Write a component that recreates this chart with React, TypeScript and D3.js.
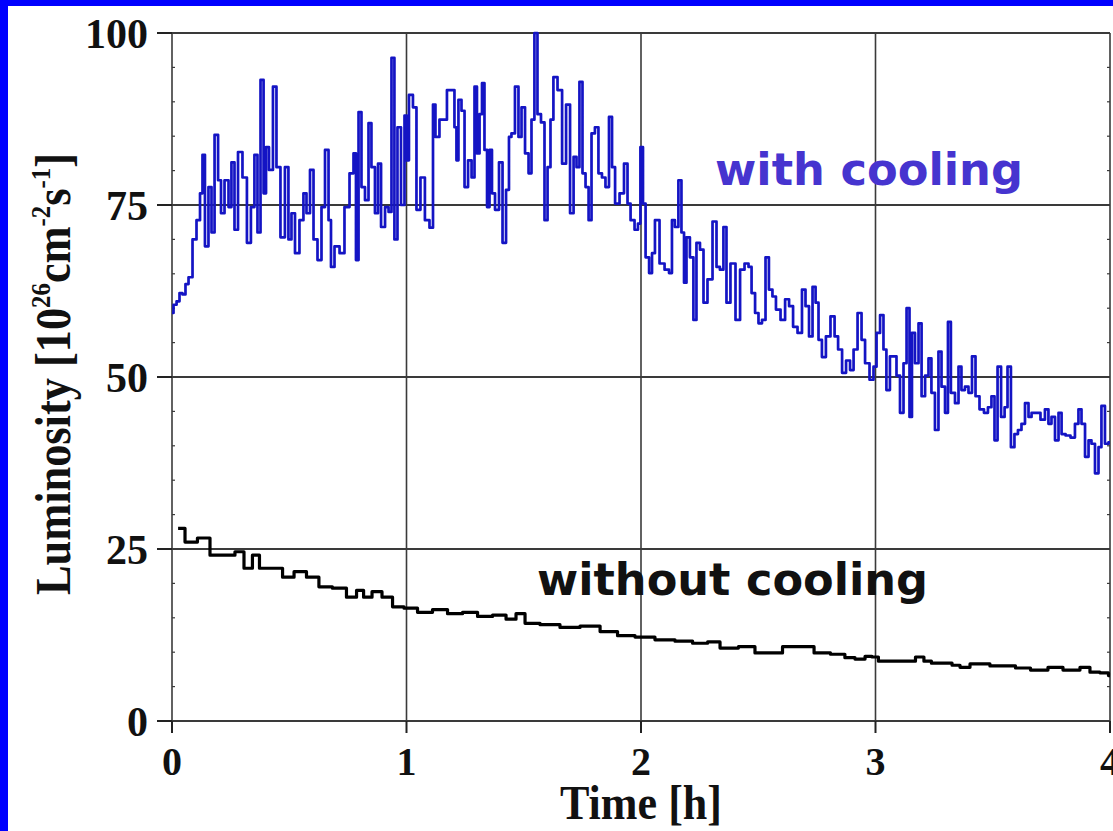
import React from "react";
import * as d3 from "d3";

const WIDTH = 1113;
const HEIGHT = 831;

// Time axis in hours, luminosity in 10^26 cm^-2 s^-1
const xTicks = [0, 1, 2, 3, 4];
const yTicks = [0, 25, 50, 75, 100];

// Beam luminosity with stochastic cooling
const coolTime = [
  0.0, 0.013, 0.026, 0.038, 0.051, 0.064, 0.077, 0.098, 0.111, 0.128, 0.132, 0.149, 0.162, 0.175, 0.188,
  0.205, 0.213, 0.235, 0.247, 0.26, 0.273, 0.29, 0.311, 0.328, 0.345, 0.358, 0.371, 0.384, 0.397, 0.405,
  0.422, 0.439, 0.452, 0.473, 0.49, 0.503, 0.516, 0.533, 0.554, 0.567, 0.58, 0.597, 0.61, 0.631, 0.644,
  0.661, 0.674, 0.682, 0.704, 0.725, 0.746, 0.768, 0.78, 0.789, 0.802, 0.814, 0.832, 0.844, 0.857, 0.874,
  0.883, 0.9, 0.917, 0.93, 0.942, 0.955, 0.968, 0.985, 0.998, 1.002, 1.019, 1.036, 1.049, 1.07, 1.087,
  1.109, 1.117, 1.13, 1.151, 1.164, 1.181, 1.198, 1.211, 1.215, 1.228, 1.241, 1.254, 1.271, 1.284, 1.296,
  1.305, 1.318, 1.326, 1.339, 1.348, 1.36, 1.369, 1.386, 1.403, 1.416, 1.433, 1.441, 1.454, 1.471, 1.484,
  1.497, 1.514, 1.527, 1.539, 1.552, 1.565, 1.582, 1.595, 1.608, 1.62, 1.633, 1.655, 1.672, 1.689, 1.706,
  1.719, 1.731, 1.744, 1.757, 1.77, 1.783, 1.795, 1.812, 1.825, 1.842, 1.855, 1.872, 1.881, 1.898, 1.919,
  1.936, 1.949, 1.962, 1.983, 1.991, 2.004, 2.013, 2.026, 2.043, 2.051, 2.068, 2.09, 2.111, 2.128, 2.136,
  2.153, 2.166, 2.179, 2.188, 2.2, 2.217, 2.23, 2.243, 2.26, 2.273, 2.294, 2.316, 2.328, 2.345, 2.358,
  2.371, 2.392, 2.414, 2.431, 2.452, 2.465, 2.478, 2.495, 2.507, 2.525, 2.537, 2.554, 2.567, 2.584, 2.606,
  2.623, 2.64, 2.657, 2.678, 2.695, 2.708, 2.725, 2.738, 2.751, 2.763, 2.78, 2.797, 2.819, 2.832, 2.849,
  2.866, 2.883, 2.9, 2.913, 2.934, 2.947, 2.964, 2.985, 2.998, 3.011, 3.028, 3.04, 3.053, 3.07, 3.083,
  3.096, 3.113, 3.126, 3.139, 3.151, 3.16, 3.177, 3.19, 3.203, 3.22, 3.232, 3.245, 3.262, 3.275, 3.288,
  3.305, 3.313, 3.33, 3.348, 3.36, 3.373, 3.39, 3.403, 3.42, 3.433, 3.454, 3.471, 3.488, 3.501, 3.514,
  3.527, 3.544, 3.557, 3.569, 3.586, 3.599, 3.616, 3.629, 3.646, 3.659, 3.672, 3.693, 3.714, 3.731, 3.744,
  3.757, 3.774, 3.787, 3.8, 3.821, 3.842, 3.859, 3.872, 3.885, 3.902, 3.915, 3.927, 3.945, 3.957, 3.97,
  3.987, 4.0,
];
const coolLum = [
  59.3, 60.5, 61, 62.2, 62, 63.5, 64.5, 70, 72.8, 76.7, 82.3, 69, 77.6, 71, 85.2,
  78.6, 73.8, 78.6, 74.7, 81.2, 71.4, 82.7, 79, 69.5, 74.7, 82.3, 71, 93.2, 76.7, 83.4,
  80.1, 92.2, 80.5, 70.3, 80.5, 70, 73.8, 68, 72.8, 76.7, 73.8, 80.1, 70, 67, 74.7,
  83, 72.8, 66, 69, 68, 74.7, 79.6, 82.5, 67, 88.5, 77.6, 75.7, 86.9, 80.5, 73.8,
  81, 71.8, 74.7, 74, 96.4, 70, 86.3, 75, 88, 81.5, 91, 89.2, 74.3, 79, 72.8,
  71.7, 89.6, 84.9, 87.4, 87.4, 91.7, 91.7, 86.3, 81.5, 90.3, 88.7, 77.6, 81.5, 79, 92.2,
  82.5, 88.2, 92.7, 83, 74.7, 83, 76.7, 74.3, 81.2, 69.5, 77.2, 84.9, 85.4, 92.2, 84.9,
  89.2, 82.5, 79.6, 87.4, 100, 88.2, 87, 72.8, 80.5, 87.4, 93.6, 91.7, 81, 89.6, 73.8,
  82, 80.5, 92.9, 79.6, 77.6, 72.8, 85.4, 86.3, 79.6, 79, 77.6, 87.8, 80.5, 75.2, 76.7,
  81, 75.2, 72.8, 71.4, 72.3, 83.4, 75.2, 67.4, 65.1, 68, 72.8, 66.5, 65.6, 65.1, 72.8,
  71.8, 78.6, 71, 63.7, 70.3, 67.4, 58.3, 69.5, 68.5, 60.8, 64.2, 72.6, 66, 65.6, 71.8,
  60.8, 66.5, 58.3, 65.6, 66.5, 66, 62.2, 59.3, 57.8, 58.3, 67.4, 62.7, 61.7, 59.8, 58.3,
  61.3, 60.3, 57.3, 56.4, 62.7, 60.3, 55.9, 63.1, 60.8, 55.4, 52.9, 55.9, 58.8, 55.9, 54,
  50.6, 52.4, 51, 54, 59.3, 55.4, 52, 49.6, 51.5, 56.4, 59, 54, 48.1, 53, 53,
  50.2, 44.8, 52, 60, 44.2, 56.4, 52, 57.8, 47.2, 50.2, 52.7, 47.7, 42.3, 53.7, 48.6,
  44.8, 58, 47.7, 46.2, 51.5, 48.1, 48.6, 47.7, 53, 47.2, 45.3, 44.8, 45.6, 47.2, 40.8,
  51.5, 44.2, 45.6, 51.5, 39.8, 41.7, 42.3, 43.2, 46.2, 44.2, 44.8, 44.8, 43.8, 45.3, 43.2,
  44.2, 40.8, 44.8, 41.7, 41.5, 41.2, 43.2, 45.3, 43.2, 38.4, 40.8, 40.3, 36, 39.8, 45.8,
  40.3, 40.5,
];

// Beam luminosity without cooling
const noCoolTime = [
  0.026, 0.085, 0.132, 0.192, 0.247, 0.29, 0.324, 0.362, 0.384, 0.448, 0.495, 0.546, 0.601, 0.652, 0.716,
  0.772, 0.802, 0.832, 0.874, 0.917, 0.964, 1.015, 1.079, 1.143, 1.207, 1.271, 1.335, 1.399, 1.45, 1.484,
  1.527, 1.612, 1.697, 1.783, 1.868, 1.932, 2.017, 2.102, 2.188, 2.252, 2.316, 2.358, 2.473, 2.499, 2.593,
  2.614, 2.721, 2.755, 2.861, 2.878, 2.947, 2.964, 3.006, 3.019, 3.16, 3.181, 3.232, 3.245, 3.305, 3.348,
  3.373, 3.433, 3.475, 3.501, 3.586, 3.608, 3.714, 3.757, 3.842, 3.902, 3.927, 3.987, 4.0,
];
const noCoolLum = [
  28.0, 26.0, 26.6, 24.1, 24.1, 24.6, 22.2, 24.1, 22.2, 22.2, 20.9, 21.7, 20.9, 19.5, 19.3,
  18.0, 19.0, 18.0, 18.8, 18.0, 16.6, 16.4, 15.8, 16.2, 15.6, 15.8, 15.2, 15.4, 14.8, 15.6,
  14.2, 14.0, 13.6, 13.8, 13.0, 12.4, 12.2, 11.8, 11.6, 11.3, 11.5, 10.6, 10.8, 9.9, 9.9,
  10.8, 10.8, 9.9, 9.7, 9.2, 9.0, 9.4, 9.3, 8.7, 8.7, 9.3, 8.7, 8.4, 8.4, 8.1,
  7.8, 8.3, 8.3, 8.0, 8.0, 7.7, 7.4, 7.8, 7.4, 7.8, 7.1, 7.0, 6.6,
];

const x = d3.scaleLinear().domain([0, 4]).range([172, 1110]);
const y = d3.scaleLinear().domain([0, 100]).range([721, 33]);
const yMinor = y.ticks(20).filter((v) => v % 25 !== 0);

// Both records are logged as held samples, so they are drawn as steps
const coolPath = d3
  .line<number>()
  .x((_, i) => x(coolTime[i]))
  .y((d) => y(d))
  .curve(d3.curveStep)(coolLum) as string;

const noCoolPath = d3
  .line<number>()
  .x((_, i) => x(noCoolTime[i]))
  .y((d) => y(d))
  .curve(d3.curveStep)(noCoolLum) as string;

const SERIF = "'Liberation Serif', 'Times New Roman', serif";
const SANS = "'DejaVu Sans', Verdana, sans-serif";
const GRID = "#3a3a3a";

export default function App() {
  const [x0, x1] = x.range();
  const [y0, y1] = y.range();
  return (
    <svg
      width={WIDTH}
      height={HEIGHT}
      style={{ position: "absolute", left: 0, top: 0, display: "block" }}
    >
      <rect x={0} y={0} width={WIDTH} height={HEIGHT} fill="#0000ff" />
      <rect x={8} y={6} width={WIDTH - 8} height={HEIGHT - 6} fill="#ffffff" />

      {/* grid */}
      {yTicks.map((t) => (
        <line key={"gy" + t} x1={x0} x2={x1} y1={y(t)} y2={y(t)} stroke={GRID} strokeWidth={1.8} />
      ))}
      {xTicks.map((t) => (
        <line key={"gx" + t} x1={x(t)} x2={x(t)} y1={y0} y2={y1} stroke={GRID} strokeWidth={1.6} />
      ))}

      {/* minor ticks */}
      {yMinor.map((t) => (
        <g key={"my" + t}>
          <line x1={x0} x2={x0 + 3} y1={y(t)} y2={y(t)} stroke={GRID} strokeWidth={1.2} />
          <line x1={x1 - 3} x2={x1} y1={y(t)} y2={y(t)} stroke={GRID} strokeWidth={1.2} />
        </g>
      ))}

      {/* major ticks */}
      {yTicks.map((t) => (
        <line key={"ty" + t} x1={x0 - 15} x2={x0} y1={y(t)} y2={y(t)} stroke="#222" strokeWidth={2} />
      ))}
      {xTicks.map((t) => (
        <line key={"tx" + t} x1={x(t)} x2={x(t)} y1={y0} y2={y0 + 12} stroke="#222" strokeWidth={2} />
      ))}

      {/* tick labels */}
      {yTicks.map((t) => (
        <text
          key={"ly" + t}
          x={148}
          y={y(t) + 15}
          textAnchor="end"
          fontFamily={SERIF}
          fontWeight="bold"
          fontSize={42}
          fill="#111"
        >
          {t}
        </text>
      ))}
      {xTicks.map((t) => (
        <text
          key={"lx" + t}
          x={x(t)}
          y={775}
          textAnchor="middle"
          fontFamily={SERIF}
          fontWeight="bold"
          fontSize={40}
          fill="#111"
        >
          {t}
        </text>
      ))}

      {/* axis titles */}
      <text
        x={641}
        y={819}
        textAnchor="middle"
        fontFamily={SERIF}
        fontWeight="bold"
        fontSize={48}
        textLength={162}
        lengthAdjust="spacingAndGlyphs"
        fill="#111"
      >
        Time [h]
      </text>
      <text
        transform="translate(70,374) rotate(-90)"
        textAnchor="middle"
        fontFamily={SERIF}
        fontWeight="bold"
        fontSize={50}
        textLength={442}
        lengthAdjust="spacingAndGlyphs"
        fill="#111"
      >
        Luminosity [10
        <tspan fontSize={28} dy={-20}>26</tspan>
        <tspan dy={20}>cm</tspan>
        <tspan fontSize={28} dy={-20}>-2</tspan>
        <tspan dy={20}>s</tspan>
        <tspan fontSize={28} dy={-20}>-1</tspan>
        <tspan dy={20}>]</tspan>
      </text>

      {/* series */}
      <path d={noCoolPath} fill="none" stroke="#000" strokeWidth={3.2} strokeLinejoin="round" />
      <path d={coolPath} fill="none" stroke="#1414c4" strokeWidth={2.7} strokeLinejoin="round" />

      {/* series labels */}
      <text
        x={715}
        y={185}
        fontFamily={SANS}
        fontWeight="bold"
        fontSize={44}
        textLength={308}
        lengthAdjust="spacingAndGlyphs"
        fill="#4634cf"
      >
        with cooling
      </text>
      <text
        x={537}
        y={595}
        fontFamily={SANS}
        fontWeight="bold"
        fontSize={44}
        textLength={391}
        lengthAdjust="spacingAndGlyphs"
        fill="#111"
      >
        without cooling
      </text>
    </svg>
  );
}
